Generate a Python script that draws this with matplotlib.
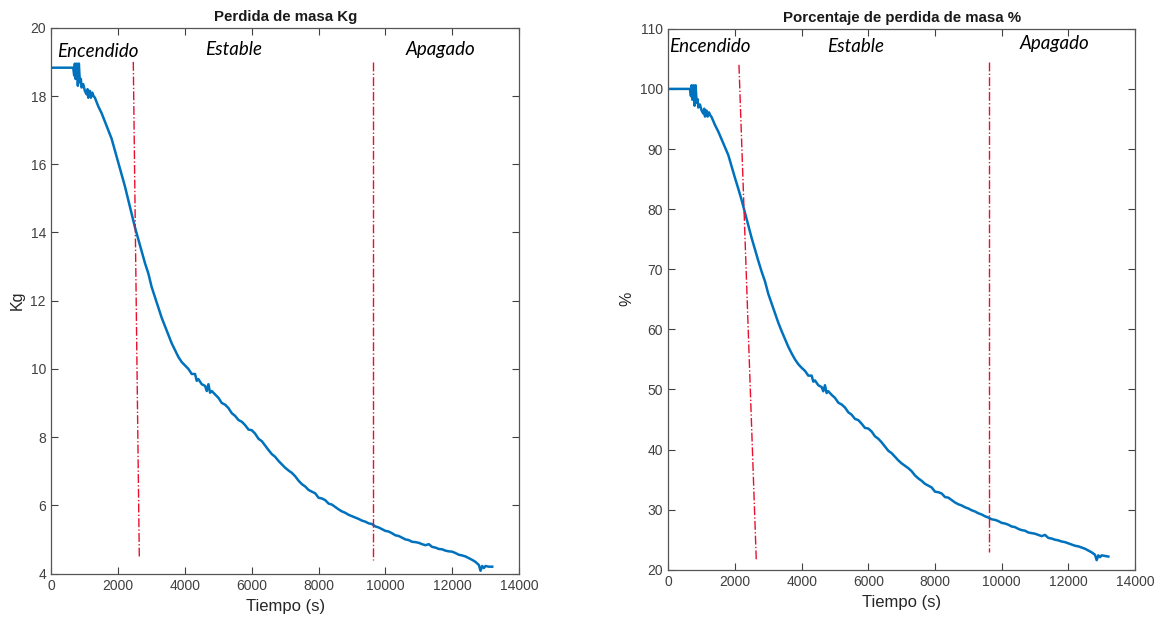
import matplotlib
matplotlib.use("Agg")
import matplotlib.pyplot as plt

# ---------------- data ----------------
tiempo = [0, 650, 680, 700, 720, 760, 790, 820, 850, 880, 900, 950, 1000, 1050, 1080,
          1100, 1150, 1180, 1220, 1260, 1300, 1400, 1500, 1600, 1700, 1800, 1900, 2000,
          2100, 2200, 2300, 2400, 2500, 2600, 2700, 2800, 2900, 3000, 3100, 3200, 3300,
          3400, 3500, 3600, 3700, 3800, 3900, 4000, 4100, 4200, 4300, 4350, 4400, 4500,
          4600, 4650, 4700, 4750, 4800, 4900, 5000, 5100, 5200, 5300, 5400, 5500, 5600,
          5700, 5800, 5900, 6000, 6100, 6200, 6300, 6400, 6500, 6600, 6700, 6800, 6900,
          7000, 7100, 7200, 7300, 7400, 7500, 7600, 7700, 7800, 7900, 8000, 8100, 8200,
          8300, 8400, 8500, 8600, 8700, 8800, 8900, 9000, 9100, 9200, 9300, 9400, 9500,
          9600, 9700, 9800, 9900, 10000, 10100, 10200, 10300, 10400, 10500, 10600, 10700,
          10800, 10900, 11000, 11100, 11200, 11300, 11400, 11500, 11600, 11700, 11800,
          11900, 12000, 12100, 12200, 12300, 12400, 12500, 12600, 12700, 12800, 12850,
          12900, 12950, 13000, 13100, 13200]

masa_kg = [18.83, 18.83, 18.6, 18.95, 18.5, 18.95, 18.3, 18.95, 18.4, 18.5, 18.25, 18.35,
           18.15, 18.05, 18.2, 17.95, 18.15, 17.95, 18.1, 18.0, 17.95, 17.7, 17.5, 17.25,
           17.0, 16.75, 16.4, 16.05, 15.7, 15.35, 14.95, 14.55, 14.15, 13.8, 13.45, 13.1,
           12.8, 12.4, 12.1, 11.8, 11.5, 11.25, 11.0, 10.75, 10.55, 10.35, 10.2, 10.1,
           10.0, 9.85, 9.85, 9.65, 9.7, 9.55, 9.5, 9.35, 9.55, 9.3, 9.35, 9.25, 9.15,
           9.0, 8.95, 8.85, 8.7, 8.62, 8.5, 8.45, 8.35, 8.22, 8.2, 8.1, 7.95, 7.88,
           7.75, 7.62, 7.5, 7.42, 7.3, 7.2, 7.1, 7.02, 6.95, 6.85, 6.72, 6.62, 6.55,
           6.45, 6.4, 6.35, 6.22, 6.2, 6.15, 6.05, 6.02, 5.95, 5.88, 5.82, 5.78, 5.72,
           5.68, 5.64, 5.6, 5.55, 5.52, 5.47, 5.45, 5.38, 5.35, 5.3, 5.25, 5.23, 5.18,
           5.12, 5.1, 5.05, 5.0, 4.98, 4.93, 4.92, 4.9, 4.86, 4.83, 4.86, 4.78, 4.76,
           4.72, 4.71, 4.67, 4.65, 4.64, 4.6, 4.55, 4.53, 4.5, 4.45, 4.4, 4.34, 4.25,
           4.08, 4.22, 4.16, 4.22, 4.2, 4.2]

porcentaje = [100.0, 100.0, 98.8, 100.6, 98.2, 100.6, 97.2, 100.6, 97.7, 98.3, 96.9, 97.4,
              96.4, 95.9, 96.7, 95.4, 96.4, 95.4, 96.1, 95.6, 95.3, 94.0, 92.9, 91.6,
              90.3, 89.0, 87.1, 85.2, 83.4, 81.5, 79.4, 77.3, 75.2, 73.3, 71.4, 69.6,
              68.0, 65.9, 64.3, 62.7, 61.1, 59.7, 58.4, 57.1, 56.0, 55.0, 54.2, 53.6,
              53.1, 52.3, 52.3, 51.3, 51.5, 50.7, 50.4, 49.7, 50.7, 49.4, 49.7, 49.1,
              48.6, 47.8, 47.5, 47.0, 46.2, 45.8, 45.1, 44.9, 44.3, 43.6, 43.5, 43.0,
              42.2, 41.8, 41.2, 40.5, 39.8, 39.4, 38.8, 38.2, 37.7, 37.3, 36.9, 36.4,
              35.7, 35.2, 34.8, 34.3, 34.0, 33.7, 33.0, 32.9, 32.7, 32.1, 32.0, 31.6,
              31.2, 30.9, 30.7, 30.4, 30.2, 29.9, 29.7, 29.4, 29.2, 28.9, 28.7, 28.4,
              28.3, 28.1, 27.8, 27.7, 27.5, 27.2, 27.1, 26.8, 26.6, 26.5, 26.2, 26.1,
              26.0, 25.8, 25.6, 25.8, 25.3, 25.2, 25.0, 24.9, 24.7, 24.6, 24.4, 24.2,
              24.0, 23.9, 23.7, 23.5, 23.2, 22.9, 22.5, 21.6, 22.4, 22.1, 22.4, 22.3, 22.2]

# phase separators: (t_top, y_top, t_bottom, y_bottom)
lineas_kg = [(2450, 19.0, 2630, 4.5), (9640, 19.0, 9640, 4.4)]
lineas_pct = [(2120, 104.0, 2640, 21.5), (9620, 104.5, 9620, 23.0)]

fases = ["Encendido", "Estable", "Apagado"]
fases_t_kg = [170, 4600, 10600]
fases_y_kg = [19.3, 19.35, 19.35]
fases_t_pct = [20, 4750, 10550]
fases_y_pct = [107.0, 107.0, 107.6]

xticks = [0, 2000, 4000, 6000, 8000, 10000, 12000, 14000]
yticks_kg = [4, 6, 8, 10, 12, 14, 16, 18, 20]
yticks_pct = [20, 30, 40, 50, 60, 70, 80, 90, 100, 110]

# ---------------- plotting ----------------
plt.rcParams['font.family'] = ['Liberation Sans', 'DejaVu Sans']
fig = plt.figure(figsize=(11.57, 6.19), dpi=100)
fig.patch.set_facecolor('white')

ax1 = fig.add_axes([0.0445, 0.0735, 0.404, 0.8816])
ax2 = fig.add_axes([0.5776, 0.0795, 0.4034, 0.874])

azul = '#0072BD'
rojo = '#E8102E'
gris = '#404040'


def estilo(ax, yticks, ylim, titulo, ylabel):
    ax.set_xlim(0, 14000)
    ax.set_ylim(*ylim)
    ax.set_xticks(xticks)
    ax.set_yticks(yticks)
    ax.tick_params(direction='in', length=5, width=0.8, top=True, right=True,
                   labelsize=10, colors=gris, pad=4)
    for s in ax.spines.values():
        s.set_color('#555555')
        s.set_linewidth(0.9)
    ax.set_title(titulo, fontsize=10.8, fontweight='bold', color='#1a1a1a', pad=5)
    ax.set_xlabel('Tiempo (s)', fontsize=12, color='#262626', labelpad=4)
    ax.set_ylabel(ylabel, fontsize=11.5, color='#262626', labelpad=4)


ax1.plot(tiempo, masa_kg, color=azul, lw=1.8, solid_joinstyle='round')
for t0, y0, t1, y1 in lineas_kg:
    ax1.plot([t0, t1], [y0, y1], color=rojo, lw=1.0, ls='-.')
for txt, t, y in zip(fases, fases_t_kg, fases_y_kg):
    ax1.text(t, y, txt, fontsize=13.5, style='italic', family=['Lato', 'DejaVu Sans'],
             ha='left', va='center', color='black')
estilo(ax1, yticks_kg, (4, 20), 'Perdida de masa Kg', 'Kg')

ax2.plot(tiempo, porcentaje, color=azul, lw=1.8, solid_joinstyle='round')
for t0, y0, t1, y1 in lineas_pct:
    ax2.plot([t0, t1], [y0, y1], color=rojo, lw=1.0, ls='-.')
for txt, t, y in zip(fases, fases_t_pct, fases_y_pct):
    ax2.text(t, y, txt, fontsize=13.5, style='italic', family=['Lato', 'DejaVu Sans'],
             ha='left', va='center', color='black')
estilo(ax2, yticks_pct, (20, 110), 'Porcentaje de perdida de masa %', '%')

fig.savefig('out.png', dpi=100, facecolor='white')
